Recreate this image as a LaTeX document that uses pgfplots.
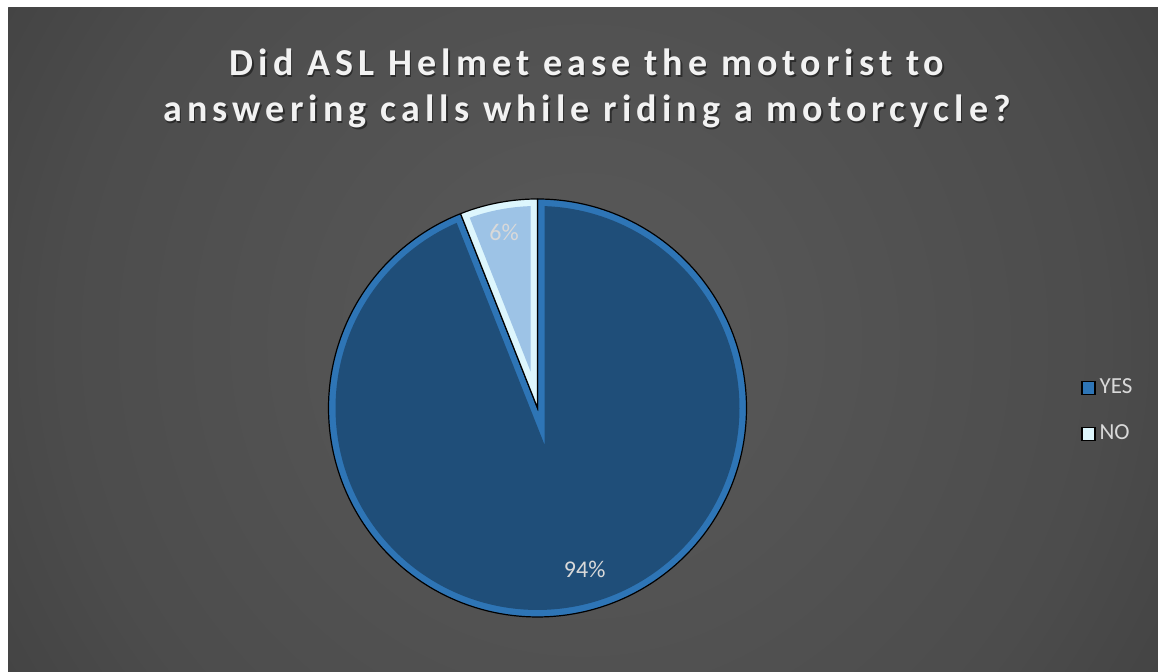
\documentclass[border=0pt]{standalone}
\usepackage{pgfplots}
\pgfplotsset{compat=1.18}
\usepackage{pgfplotstable}
\usepackage{fontspec}
\setmainfont{Carlito}
\newfontfamily\titlefont[LetterSpace=13.5]{Carlito}
\definecolor{yesfill}{HTML}{1F4E79}
\definecolor{yesring}{HTML}{2E75B6}
\definecolor{nofill}{HTML}{9DC3E6}
\definecolor{noring}{HTML}{DDF6FD}
\definecolor{txt}{HTML}{D9D9D9}
\definecolor{ttl}{HTML}{F2F2F2}
\definecolor{bg0}{HTML}{5A5A5A}
\definecolor{bg1}{HTML}{4C4C4C}
\definecolor{bg2}{HTML}{2C2C2C}
\definecolor{bg3}{HTML}{252525}
\pgfdeclareradialshading{bgshade}{\pgfpoint{0bp}{0bp}}{color(0bp)=(bg0); color(19.6bp)=(bg1); color(41.4bp)=(bg2); color(50bp)=(bg3)}

\pgfplotstableread{
label value
YES 94
NO 6
}\piedata

\begin{document}
\begin{tikzpicture}
\pgfplotstablegetelem{0}{value}\of\piedata \let\vyes\pgfplotsretval
\pgfplotstablegetelem{1}{value}\of\piedata \let\vno\pgfplotsretval
\pgfmathsetmacro\tot{\vyes+\vno}
\pgfmathsetmacro\sno{360*\vno/\tot}
\def\cx{268.75}\def\cy{132}\def\r{104.5}\def\d{3.5}
\pgfmathsetmacro\ri{\r-\d}
\pgfmathsetmacro\dd{asin(\d/\ri)}
% NO slice angles
\pgfmathsetmacro\noA{90}
\pgfmathsetmacro\noB{90+\sno}
\pgfmathsetmacro\noAi{\noA+\dd}
\pgfmathsetmacro\noBi{\noB-\dd}
\pgfmathsetmacro\noMid{90+\sno/2}
\pgfmathsetmacro\noApD{\d/sin(\sno/2)}
\pgfmathsetmacro\noApX{\cx+\noApD*cos(\noMid)}
\pgfmathsetmacro\noApY{\cy+\noApD*sin(\noMid)}
% YES slice angles
\pgfmathsetmacro\yesA{90+\sno}
\pgfmathsetmacro\yesB{450}
\pgfmathsetmacro\yesAi{\yesA+\dd}
\pgfmathsetmacro\yesBi{\yesB-\dd}
\pgfmathsetmacro\yesMid{270+\sno/2}
\pgfmathsetmacro\yesApD{\d/sin((360-\sno)/2)}
\pgfmathsetmacro\yesApX{\cx+\yesApD*cos(\yesMid)}
\pgfmathsetmacro\yesApY{\cy+\yesApD*sin(\yesMid)}
% label positions
\pgfmathsetmacro\yesLX{\cx+0.805*\r*cos(\yesMid+5.5)}
\pgfmathsetmacro\yesLY{\cy+0.805*\r*sin(\yesMid+5.5)}
\pgfmathsetmacro\noLX{\cx+0.855*\r*cos(\noMid)}
\pgfmathsetmacro\noLY{\cy+0.855*\r*sin(\noMid)}

\useasboundingbox (0pt,0pt) rectangle (579pt,336pt);
\fill[white] (0pt,0pt) rectangle (579pt,336pt);
\begin{scope}
\clip (4pt,0pt) rectangle (579pt,332pt);
\shade[shading=bgshade] (291.5pt,166pt) circle (332pt);
\end{scope}

\begin{axis}[
  at={(0pt,0pt)}, anchor=south west,
  scale only axis, width=579pt, height=336pt,
  xmin=0, xmax=579, ymin=0, ymax=336,
  hide axis, clip=false,
  legend style={at={(0.9335,0.3884)}, anchor=west, draw=none, fill=none,
    font=\fontsize{11.5pt}{13pt}\selectfont, text=txt, row sep=10pt,
    inner sep=0pt},
  legend cell align=left,
  legend image code/.code={\draw[#1, line width=0.6pt] (-1.5pt,-3.25pt) rectangle (5pt,3.25pt);},
]
% YES slice
\addplot[fill=yesring, draw=black, line width=0.6pt, domain=\yesA:\yesB, samples=240, forget plot]
  ({\cx+\r*cos(x)},{\cy+\r*sin(x)}) -- (axis cs:\cx,\cy) -- cycle;
\addplot[fill=yesfill, draw=none, domain=\yesAi:\yesBi, samples=240, forget plot]
  ({\cx+\ri*cos(x)},{\cy+\ri*sin(x)}) -- (axis cs:\yesApX,\yesApY) -- cycle;
% NO slice
\addplot[fill=noring, draw=black, line width=0.6pt, domain=\noA:\noB, samples=40, forget plot]
  ({\cx+\r*cos(x)},{\cy+\r*sin(x)}) -- (axis cs:\cx,\cy) -- cycle;
\addplot[fill=nofill, draw=none, domain=\noAi:\noBi, samples=40, forget plot]
  ({\cx+\ri*cos(x)},{\cy+\ri*sin(x)}) -- (axis cs:\noApX,\noApY) -- cycle;

\node[text=txt, font=\fontsize{12pt}{14pt}\selectfont] at (axis cs:\yesLX,\yesLY) {\vyes\%};
\node[text=txt, font=\fontsize{12pt}{14pt}\selectfont] at (axis cs:\noLX,\noLY) {\vno\%};

\addlegendimage{fill=yesring, draw=black}
\addlegendentry{YES}
\addlegendimage{fill=noring, draw=black}
\addlegendentry{NO}
\end{axis}

% title with soft shadow
\begin{scope}[font=\titlefont\bfseries\fontsize{19pt}{23pt}\selectfont]
\node[anchor=base, text=black, opacity=0.45] at (294.2pt,297.3pt) {Did ASL Helmet ease the motorist to};
\node[anchor=base, text=black, opacity=0.45] at (294.2pt,274.3pt) {answering calls while riding a motorcycle?};
\node[anchor=base, text=ttl] at (293.5pt,298pt) {Did ASL Helmet ease the motorist to};
\node[anchor=base, text=ttl] at (293.5pt,275pt) {answering calls while riding a motorcycle?};
\end{scope}
\end{tikzpicture}
\end{document}
